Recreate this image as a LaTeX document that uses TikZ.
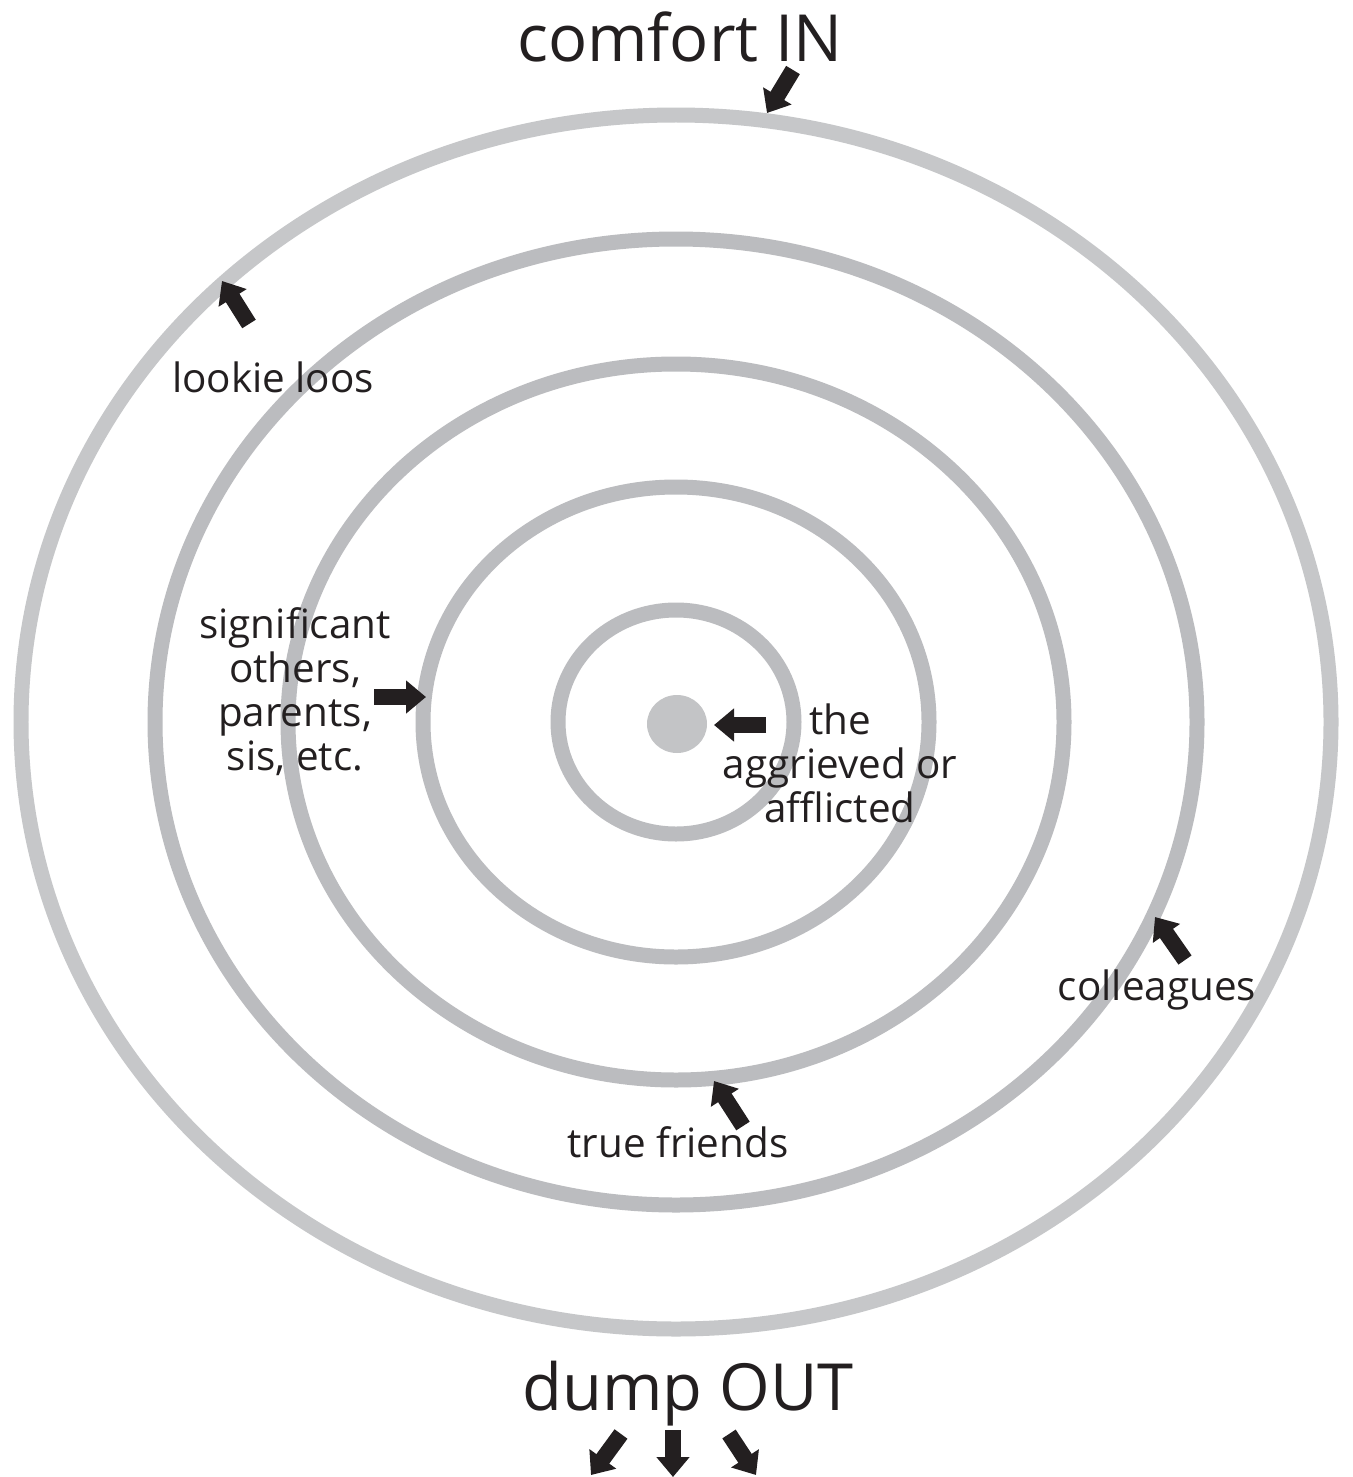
\documentclass[tikz,border=0pt]{standalone}
\usepackage{fontspec}
\setmainfont{Open Sans}
\usetikzlibrary{arrows.meta}
\definecolor{ringgray}{HTML}{BBBCBF}
\definecolor{outergray}{HTML}{C6C7C9}
\definecolor{dotgray}{HTML}{C3C4C6}
\definecolor{ink}{HTML}{231F20}
\tikzset{
  every node/.style={text=ink},
  ringline/.style={draw=ringgray,line width=0.3cm},
  blockarr/.style={draw=ink,line width=0.32cm,-{Triangle[length=0.4cm,width=0.64cm]}},
  bigtext/.style={font=\fontsize{37}{40}\selectfont,inner sep=0pt,anchor=base},
  tag/.style={font=\fontsize{23}{25}\selectfont,align=center,inner sep=0pt,anchor=base},
}

\begin{document}
\begin{tikzpicture}[x=0.02cm,y=-0.02cm]
  \useasboundingbox[fill=white] (0,0) rectangle (1352,1477);

  % rings
  \coordinate (mid) at (676,722);
  \draw[ringline,draw=outergray] (mid) ellipse [x radius=655,y radius=607];
  \draw[ringline] (mid) ellipse [x radius=521,y radius=483];
  \draw[ringline] (mid) ellipse [x radius=388,y radius=358];
  \draw[ringline] (mid) ellipse [x radius=253,y radius=235];
  \draw[ringline] (mid) ellipse [x radius=118,y radius=112];
  \fill[dotgray] (677,724) ellipse [x radius=30,y radius=29];

  % labels
  \node[bigtext] (comfort) at (680,62) {comfort IN};
  \node[bigtext] (dump) at (688,1410) {dump OUT};
  \node[tag] (lookie) at (273,392) {lookie loos};
  \node[tag] (others) at (295,770) {significant\\others,\\parents,\\sis, etc.};
  \node[tag] (afflicted) at (840,822) {the\\aggrieved or\\afflicted};
  \node[tag] (colleagues) at (1157,1000) {colleagues};
  \node[tag] (friends) at (678,1157) {true friends};

  % arrow ends
  \coordinate (inA) at (793,70);   \coordinate (inB) at (767,113);
  \coordinate (lkA) at (249,324);  \coordinate (lkB) at (222,281);
  \coordinate (soA) at (374,697);  \coordinate (soB) at (426,697);
  \coordinate (agA) at (766,725);  \coordinate (agB) at (714,725);
  \coordinate (coA) at (1185,960); \coordinate (coB) at (1155,917);
  \coordinate (tfA) at (743,1126); \coordinate (tfB) at (714,1081);
  \coordinate (d1A) at (621,1434); \coordinate (d1B) at (591,1475);
  \coordinate (d2A) at (673,1430); \coordinate (d2B) at (673,1477);
  \coordinate (d3A) at (729,1434); \coordinate (d3B) at (756,1475);

  \draw[blockarr] (inA) -- (inB);
  \draw[blockarr] (lkA) -- (lkB);
  \draw[blockarr] (soA) -- (soB);
  \draw[blockarr] (agA) -- (agB);
  \draw[blockarr] (coA) -- (coB);
  \draw[blockarr] (tfA) -- (tfB);
  \draw[blockarr] (d1A) -- (d1B);
  \draw[blockarr] (d2A) -- (d2B);
  \draw[blockarr] (d3A) -- (d3B);
\end{tikzpicture}
\end{document}
